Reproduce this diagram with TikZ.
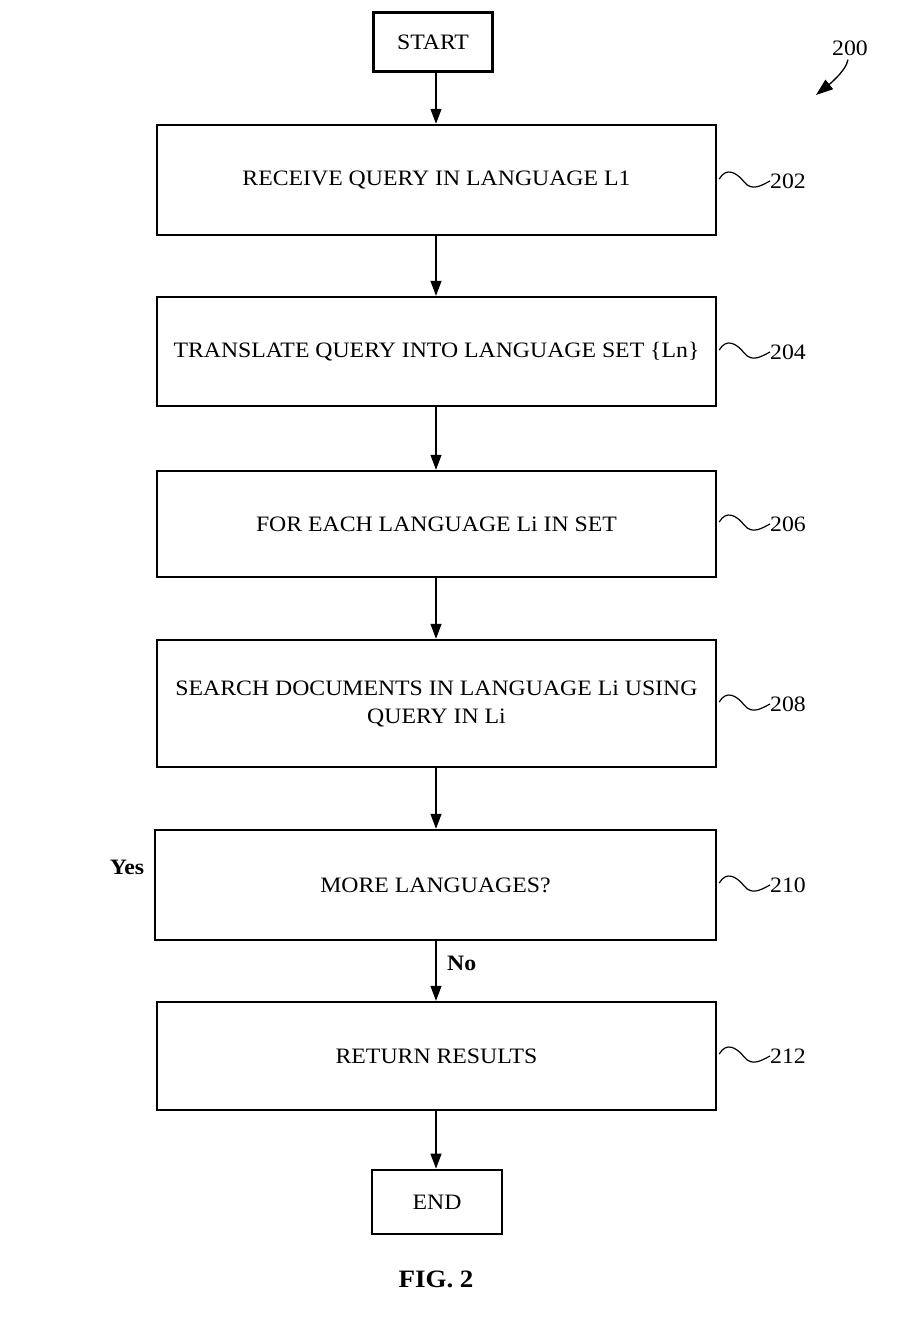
\documentclass[tikz,border=0pt]{standalone}
\usepackage{fontspec}
\setmainfont[FakeStretch=1.08]{Liberation Serif}
\usetikzlibrary{arrows.meta}
\begin{document}
\begin{tikzpicture}[x=1pt,y=-1pt,
  flowbox/.style={draw,line width=2.4pt,minimum width=559pt,inner sep=0pt,align=center,font=\fontsize{22}{28}\selectfont},
  termbox/.style={draw,line width=2.8pt,inner sep=0pt,font=\fontsize{22}{26}\selectfont},
  flowarrow/.style={line width=1.2pt,-{Triangle[length=15pt,width=11pt]}},
  leader/.style={line width=1.2pt},
  reflabel/.style={anchor=west,inner sep=0pt,font=\fontsize{22}{26}\selectfont},
  boldlabel/.style={inner sep=0pt,font=\bfseries\fontsize{22}{26}\selectfont}]
\useasboundingbox (0,0) rectangle (908,1321);
\node[termbox,minimum width=119pt,minimum height=59pt] (start) at (433,42) {START};
\node[flowbox,minimum height=110pt] (b202) at (436.5,180) {RECEIVE QUERY IN LANGUAGE L1};
\node[flowbox,minimum height=109pt] (b204) at (436.5,351.5) {TRANSLATE QUERY INTO LANGUAGE SET \{Ln\}};
\node[flowbox,minimum height=106pt] (b206) at (436.5,524) {FOR EACH LANGUAGE Li IN SET};
\node[flowbox,minimum height=127pt] (b208) at (436.5,703.5) {SEARCH DOCUMENTS IN LANGUAGE Li USING\\QUERY IN Li};
\node[flowbox,minimum height=110pt,minimum width=561pt] (b210) at (435.5,885) {MORE LANGUAGES?};
\node[flowbox,minimum height=108pt] (b212) at (436.5,1056) {RETURN RESULTS};
\node[termbox,minimum width=130pt,minimum height=64pt] (end) at (437,1202) {END};
\draw[flowarrow] (start.south -| 436,0) -- (b202.north -| 436,0);
\draw[flowarrow] (b202.south -| 436,0) -- (b204.north -| 436,0);
\draw[flowarrow] (b204.south -| 436,0) -- (b206.north -| 436,0);
\draw[flowarrow] (b206.south -| 436,0) -- (b208.north -| 436,0);
\draw[flowarrow] (b208.south -| 436,0) -- (b210.north -| 436,0);
\draw[flowarrow] (b210.south -| 436,0) -- (b212.north -| 436,0);
\draw[flowarrow] (b212.south -| 436,0) -- (end.north -| 436,0);
\foreach \b/\y in {202/181,204/352,206/524,208/704,210/885,212/1056}{
  \node[reflabel] (l\b) at (770,\y) {\b};
  \draw[leader] (b\b.east |- 0,\y) ++(2,-2) .. controls +(7,-12) and +(-8,-10) .. ++(25,3) .. controls +(8,10) and +(-8,4) .. (l\b.west);
}
\node[inner sep=0pt,font=\fontsize{22}{26}\selectfont] (l200) at (850,48) {200};
\draw[line width=1.3pt,-{Triangle[length=17pt,width=12pt]}] (l200.south) ++(-2,4) .. controls +(-2,12) and +(10,-8) .. (816,95);
\node[boldlabel] (yes) at (127,867) {Yes};
\node[boldlabel,anchor=west] (no) at (447,963) {No};
\node[inner sep=0pt,font=\bfseries\fontsize{25}{30}\selectfont] (fig) at (436,1279) {FIG. 2};
\end{tikzpicture}
\end{document}
